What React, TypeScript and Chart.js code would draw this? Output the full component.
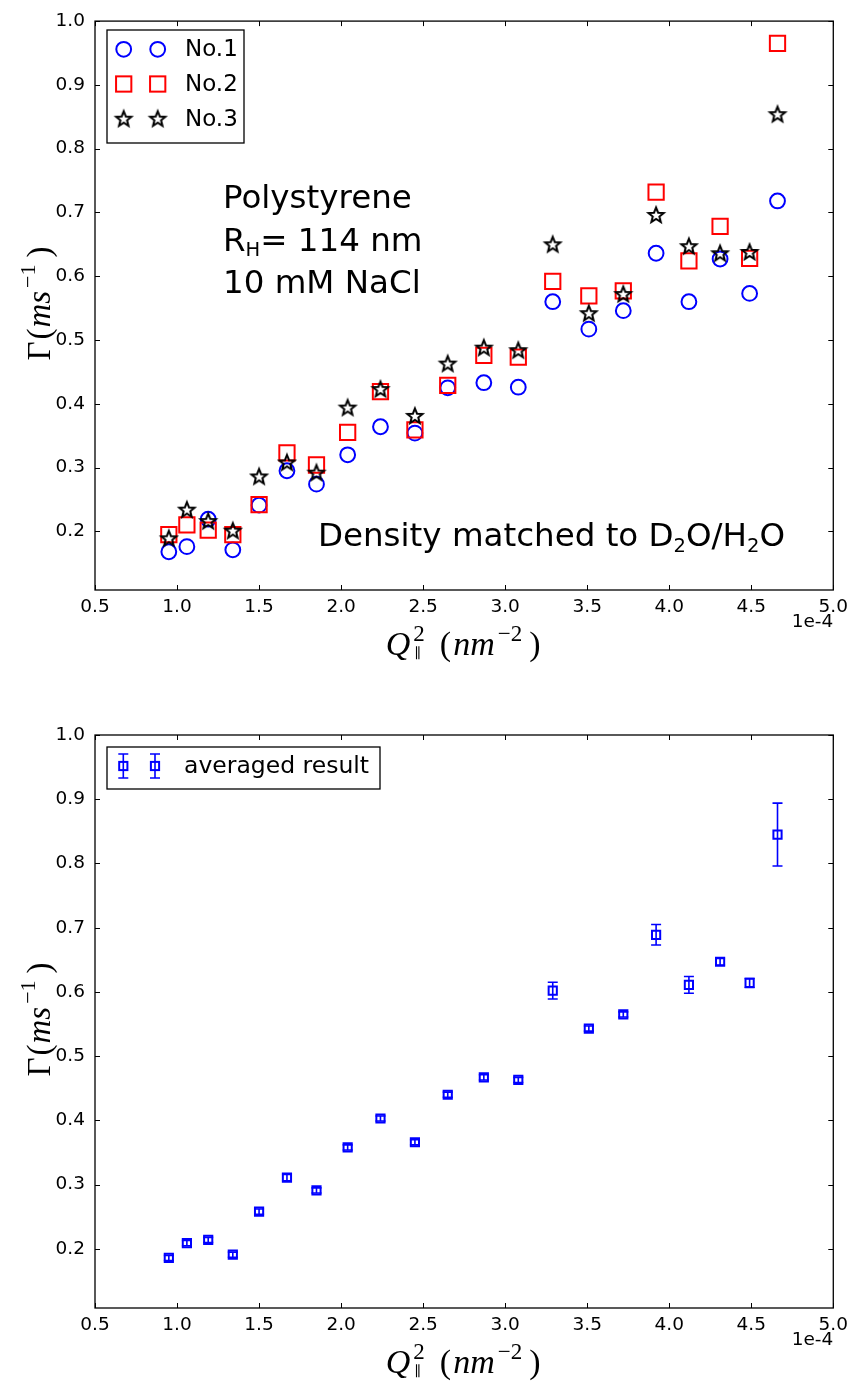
import React, { useEffect, useRef } from 'react';
import { Chart, registerables } from 'chart.js';

Chart.register(...registerables);

// ---------------- data (Q^2 in units of 1e-4 nm^-2) ----------------
const qSquared = [0.95, 1.06, 1.19, 1.34, 1.50, 1.67, 1.85, 2.04, 2.24, 2.45, 2.65, 2.87, 3.08, 3.29, 3.51, 3.72, 3.92, 4.12, 4.31, 4.49, 4.66];
const no1 = [0.168, 0.176, 0.219, 0.171, 0.241, 0.295, 0.274, 0.320, 0.364, 0.354, 0.425, 0.433, 0.426, 0.560, 0.517, 0.546, 0.636, 0.560, 0.627, 0.573, 0.718];
const no2 = [0.195, 0.210, 0.202, 0.195, 0.242, 0.323, 0.304, 0.355, 0.419, 0.359, 0.429, 0.476, 0.473, 0.592, 0.569, 0.577, 0.732, 0.624, 0.678, 0.628, 0.965];
const no3 = [0.189, 0.234, 0.216, 0.201, 0.286, 0.308, 0.292, 0.394, 0.423, 0.381, 0.463, 0.488, 0.484, 0.650, 0.542, 0.572, 0.696, 0.647, 0.636, 0.638, 0.854];
const averaged = [0.186, 0.209, 0.214, 0.191, 0.258, 0.311, 0.291, 0.358, 0.403, 0.366, 0.440, 0.467, 0.463, 0.602, 0.543, 0.565, 0.689, 0.611, 0.647, 0.614, 0.845];
const averagedErr = [0.004, 0.004, 0.004, 0.004, 0.004, 0.005, 0.004, 0.004, 0.004, 0.004, 0.004, 0.004, 0.004, 0.013, 0.004, 0.004, 0.016, 0.013, 0.005, 0.007, 0.049];

const xTicks = [0.5, 1.0, 1.5, 2.0, 2.5, 3.0, 3.5, 4.0, 4.5, 5.0];
const yTicks = [0.2, 0.3, 0.4, 0.5, 0.6, 0.7, 0.8, 0.9, 1.0];
const xMin = 0.5, xMax = 5.0, yMin = 0.108, yMax = 1.0;

const seriesLabels = ['No.1', 'No.2', 'No.3'];
const avgLabel = 'averaged result';

// ---------------- styling ----------------
const BLUE = '#0000ff';
const RED = '#ff0000';
const SANS = '"DejaVu Sans", sans-serif';
const SERIF = '"Liberation Serif", "DejaVu Serif", serif';
const W = 854;
const H = 691;
const TICK_FONT = 18.5;

function makeStar(): HTMLCanvasElement {
  const c = document.createElement('canvas');
  c.width = 22; c.height = 22;
  const g = c.getContext('2d')!;
  g.beginPath();
  for (let i = 0; i < 10; i++) {
    const r = i % 2 === 0 ? 8.0 : 3.5;
    const a = -Math.PI / 2 + (i * Math.PI) / 5;
    const x = 11 + r * Math.cos(a), y = 11.5 + r * Math.sin(a);
    if (i === 0) g.moveTo(x, y); else g.lineTo(x, y);
  }
  g.closePath();
  g.lineWidth = 2;
  g.lineJoin = 'miter';
  g.strokeStyle = '#000';
  g.stroke();
  return c;
}

// sequential math-like text layout
type Seg = { t: string; font: string; dy?: number; gap?: number; stack?: boolean; sx?: number };

function layoutSegs(ctx: CanvasRenderingContext2D, segs: Seg[]) {
  let x = 0;
  let stackStart = -1;
  let stackW = 0;
  const placed: { s: Seg; x: number }[] = [];
  segs.forEach((s) => {
    ctx.font = s.font;
    const w = ctx.measureText(s.t).width;
    x += s.gap || 0;
    if (s.stack) {
      stackStart = x;
      stackW = w;
      placed.push({ s, x: x + (s.sx || 0) });
      return;
    }
    if (stackStart >= 0) {
      placed.push({ s, x: stackStart + (s.sx || 0) });
      x = stackStart + Math.max(stackW, w);
      stackStart = -1;
      return;
    }
    placed.push({ s, x });
    x += w;
  });
  return { placed, width: x };
}

function drawSegsCentered(ctx: CanvasRenderingContext2D, segs: Seg[], cx: number, base: number) {
  const { placed, width } = layoutSegs(ctx, segs);
  ctx.textBaseline = 'alphabetic';
  ctx.textAlign = 'left';
  ctx.fillStyle = '#000';
  const ox = cx - width / 2;
  placed.forEach(({ s, x }) => {
    ctx.font = s.font;
    ctx.fillText(s.t, ox + x, base + (s.dy || 0));
  });
}

function drawSegsLeft(ctx: CanvasRenderingContext2D, segs: Seg[], left: number, base: number) {
  const { placed } = layoutSegs(ctx, segs);
  ctx.textBaseline = 'alphabetic';
  ctx.textAlign = 'left';
  ctx.fillStyle = '#000';
  placed.forEach(({ s, x }) => {
    ctx.font = s.font;
    ctx.fillText(s.t, left + x, base + (s.dy || 0));
  });
}

function drawFrame(chart: any) {
  const { ctx, chartArea: a, scales } = chart;
  ctx.save();
  ctx.strokeStyle = '#000';
  ctx.lineWidth = 1;
  ctx.beginPath();
  for (const t of scales.x.ticks) {
    const px = Math.round(scales.x.getPixelForValue(t.value)) + 0.5;
    ctx.moveTo(px, a.bottom); ctx.lineTo(px, a.bottom - 5);
    ctx.moveTo(px, a.top); ctx.lineTo(px, a.top + 5);
  }
  for (const t of scales.y.ticks) {
    const py = Math.round(scales.y.getPixelForValue(t.value)) + 0.5;
    ctx.moveTo(a.left, py); ctx.lineTo(a.left + 5, py);
    ctx.moveTo(a.right, py); ctx.lineTo(a.right - 5, py);
  }
  ctx.stroke();
  ctx.lineWidth = 1.3;
  ctx.strokeRect(a.left, a.top, a.right - a.left, a.bottom - a.top);
  ctx.restore();
}

function drawAxisTitles(chart: any) {
  const { ctx, chartArea: a } = chart;
  ctx.save();
  const big = `34px ${SERIF}`;
  const bigI = `italic 34px ${SERIF}`;
  const small = `23px ${SERIF}`;
  // x label: Q^2_|| (nm^-2)
  drawSegsCentered(ctx, [
    { t: 'Q', font: bigI },
    { t: '2', font: small, dy: -14, gap: 3, stack: true },
    { t: '∥', font: `14px ${SERIF}`, dy: 3, sx: 1 },
    { t: '(', font: big, gap: 15 },
    { t: 'nm', font: bigI, gap: 2 },
    { t: '−2', font: small, dy: -14, gap: 3 },
    { t: ')', font: big, gap: 7 },
  ], (a.left + a.right) / 2 - 1, a.bottom + 65);

  // y label: Γ(ms^-1), rotated
  const cy = (a.top + a.bottom) / 2 - 2;
  ctx.translate(50, cy);
  ctx.rotate(-Math.PI / 2);
  drawSegsCentered(ctx, [
    { t: 'Γ', font: `33px ${SERIF}` },
    { t: '(', font: `33px ${SERIF}`, gap: 2 },
    { t: 'ms', font: `italic 33px ${SERIF}`, gap: 1 },
    { t: '−1', font: `22px ${SERIF}`, dy: -15, gap: 3 },
    { t: ')', font: `33px ${SERIF}`, gap: 7 },
  ], 0, 0);
  ctx.restore();

  // offset text
  ctx.save();
  ctx.font = `${TICK_FONT}px ${SANS}`;
  ctx.fillStyle = '#000';
  ctx.textAlign = 'right';
  ctx.textBaseline = 'middle';
  ctx.fillText('1e-4', a.right, a.bottom + 32);
  ctx.restore();
}

function baseOptions(padTop: number, xHeight: number) {
  return {
    responsive: false,
    maintainAspectRatio: false,
    animation: false,
    devicePixelRatio: 1,
    layout: { padding: { left: 0, right: W - 836, top: padTop, bottom: 0 } },
    plugins: { legend: { display: false }, tooltip: { enabled: false }, title: { display: false } },
    scales: {
      x: {
        type: 'linear',
        min: xMin,
        max: xMax,
        grid: { display: false, drawTicks: false },
        border: { display: false },
        afterFit: (s: any) => { s.height = xHeight; },
        afterBuildTicks: (s: any) => { s.ticks = xTicks.map((v) => ({ value: v })); },
        ticks: {
          color: '#000',
          font: { family: SANS, size: TICK_FONT },
          padding: 6,
          maxRotation: 0,
          autoSkip: false,
          callback: (v: any) => Number(v).toFixed(1),
        },
      },
      y: {
        type: 'linear',
        min: yMin,
        max: yMax,
        grid: { display: false, drawTicks: false },
        border: { display: false },
        afterFit: (s: any) => { s.width = 95; },
        afterBuildTicks: (s: any) => { s.ticks = yTicks.map((v) => ({ value: v })); },
        ticks: {
          color: '#000',
          font: { family: SANS, size: TICK_FONT },
          padding: 10,
          autoSkip: false,
          callback: (v: any) => Number(v).toFixed(1),
        },
      },
    },
  };
}

function TopChart() {
  const ref = useRef<HTMLCanvasElement>(null);
  useEffect(() => {
    const star = makeStar();
    const pts = (ys: number[]) => qSquared.map((x, i) => ({ x, y: ys[i] }));
    const circleR = 7.4, rectR = 10.8;

    const drawCircle = (ctx: CanvasRenderingContext2D, x: number, y: number) => {
      ctx.beginPath(); ctx.arc(x, y, circleR, 0, Math.PI * 2);
      ctx.strokeStyle = BLUE; ctx.lineWidth = 2; ctx.stroke();
    };
    const drawSquare = (ctx: CanvasRenderingContext2D, x: number, y: number) => {
      const s = rectR * Math.SQRT1_2;
      ctx.strokeStyle = RED; ctx.lineWidth = 2; ctx.strokeRect(x - s, y - s, 2 * s, 2 * s);
    };

    const overlay = {
      id: 'overlayTop',
      afterDraw(chart: any) {
        const { ctx } = chart;
        drawFrame(chart);
        drawAxisTitles(chart);
        ctx.save();
        // legend
        ctx.fillStyle = '#fff';
        ctx.fillRect(107, 30, 137, 113);
        ctx.strokeStyle = '#000'; ctx.lineWidth = 1.3;
        ctx.strokeRect(107, 30, 137, 113);
        const rows = [49.3, 84, 118.7];
        const mx = [123.7, 157.7];
        mx.forEach((x) => drawCircle(ctx, x, rows[0]));
        mx.forEach((x) => drawSquare(ctx, x, rows[1]));
        mx.forEach((x) => ctx.drawImage(star, x - 11, rows[2] - 11));
        ctx.fillStyle = '#000';
        ctx.font = `23px ${SANS}`;
        ctx.textAlign = 'left';
        ctx.textBaseline = 'middle';
        seriesLabels.forEach((l, i) => ctx.fillText(l, 185, rows[i] + 1));

        // annotations
        const f = `32.5px ${SANS}`;
        const fs = `19.5px ${SANS}`;
        drawSegsLeft(ctx, [{ t: 'Polystyrene', font: f }], 223, 208);
        drawSegsLeft(ctx, [
          { t: 'R', font: f },
          { t: 'H', font: fs, dy: 5, gap: 0 },
          { t: '= 114 nm', font: f, gap: 0 },
        ], 223, 251);
        drawSegsLeft(ctx, [{ t: '10 mM NaCl', font: f }], 223, 293);
        drawSegsLeft(ctx, [
          { t: 'Density matched to D', font: f },
          { t: '2', font: fs, dy: 6 },
          { t: 'O/H', font: f },
          { t: '2', font: fs, dy: 6 },
          { t: 'O', font: f },
        ], 318, 546);
        ctx.restore();
      },
    };

    const chart = new Chart(ref.current!, {
      type: 'scatter',
      data: {
        datasets: [
          {
            label: seriesLabels[2], data: pts(no3), order: 0,
            pointStyle: star as any, pointRadius: 8, borderColor: '#000', backgroundColor: 'rgba(0,0,0,0)',
          },
          {
            label: seriesLabels[1], data: pts(no2), order: 1,
            pointStyle: 'rect', pointRadius: rectR, borderColor: RED, backgroundColor: 'rgba(0,0,0,0)', borderWidth: 2,
          },
          {
            label: seriesLabels[0], data: pts(no1), order: 2,
            pointStyle: 'circle', pointRadius: circleR, borderColor: BLUE, backgroundColor: 'rgba(0,0,0,0)', borderWidth: 2,
          },
        ],
      },
      options: baseOptions(19, H - 590) as any,
      plugins: [overlay],
    });
    return () => chart.destroy();
  }, []);
  return <canvas ref={ref} width={W} height={H} style={{ display: 'block', width: W, height: H }} />;
}

function BottomChart() {
  const ref = useRef<HTMLCanvasElement>(null);
  useEffect(() => {
    const sqR = 5.8;
    const drawErr = (ctx: CanvasRenderingContext2D, x: number, yTop: number, yBot: number) => {
      ctx.beginPath();
      ctx.moveTo(x, yTop); ctx.lineTo(x, yBot);
      ctx.moveTo(x - 5, yTop); ctx.lineTo(x + 5, yTop);
      ctx.moveTo(x - 5, yBot); ctx.lineTo(x + 5, yBot);
      ctx.stroke();
    };
    const errorBars = {
      id: 'errorBars',
      beforeDatasetsDraw(chart: any) {
        const { ctx, scales } = chart;
        ctx.save();
        ctx.strokeStyle = BLUE; ctx.lineWidth = 1.6;
        qSquared.forEach((q, i) => {
          const x = scales.x.getPixelForValue(q);
          const yt = scales.y.getPixelForValue(averaged[i] + averagedErr[i]);
          const yb = scales.y.getPixelForValue(averaged[i] - averagedErr[i]);
          drawErr(ctx, x, yt, yb);
        });
        ctx.restore();
      },
    };
    const overlay = {
      id: 'overlayBottom',
      afterDraw(chart: any) {
        const { ctx } = chart;
        drawFrame(chart);
        drawAxisTitles(chart);
        ctx.save();
        ctx.fillStyle = '#fff';
        ctx.fillRect(107, 56, 273, 42);
        ctx.strokeStyle = '#000'; ctx.lineWidth = 1.3;
        ctx.strokeRect(107, 56, 273, 42);
        const ry = 75;
        [123.3, 155].forEach((x) => {
          ctx.strokeStyle = BLUE; ctx.lineWidth = 1.6;
          drawErr(ctx, x, ry - 12, ry + 12);
          const s = sqR * Math.SQRT1_2;
          ctx.lineWidth = 2;
          ctx.strokeRect(x - s, ry - s, 2 * s, 2 * s);
        });
        ctx.fillStyle = '#000';
        ctx.font = `23.5px ${SANS}`;
        ctx.textAlign = 'left';
        ctx.textBaseline = 'middle';
        ctx.fillText(avgLabel, 184, ry + 1);
        ctx.restore();
      },
    };
    const chart = new Chart(ref.current!, {
      type: 'scatter',
      data: {
        datasets: [
          {
            label: avgLabel,
            data: qSquared.map((x, i) => ({ x, y: averaged[i] })),
            pointStyle: 'rect', pointRadius: sqR, borderColor: BLUE, backgroundColor: 'rgba(0,0,0,0)', borderWidth: 2,
          },
        ],
      },
      options: baseOptions(44, H - 617) as any,
      plugins: [errorBars, overlay],
    });
    return () => chart.destroy();
  }, []);
  return <canvas ref={ref} width={W} height={H} style={{ display: 'block', width: W, height: H }} />;
}

export default function App() {
  return (
    <div style={{ position: 'absolute', left: 0, top: 0, width: W, height: 1382, background: '#fff' }}>
      <TopChart />
      <BottomChart />
    </div>
  );
}
